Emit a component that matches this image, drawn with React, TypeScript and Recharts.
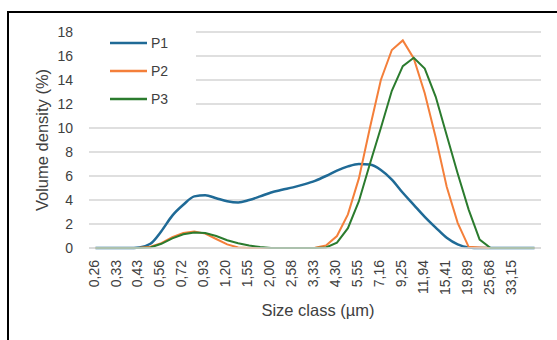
import { LineChart, Line, XAxis, YAxis, CartesianGrid, Legend } from 'recharts';

// size classes (µm), every point of the measurement grid
const SIZE_CLASSES = [
  '0,26', '0,30', '0,33', '0,38', '0,43', '0,49', '0,56', '0,63', '0,72', '0,82',
  '0,93', '1,06', '1,20', '1,37', '1,55', '1,76', '2,00', '2,27', '2,58', '2,93',
  '3,33', '3,78', '4,30', '4,88', '5,55', '6,30', '7,16', '8,14', '9,25', '10,51',
  '11,94', '13,56', '15,41', '17,51', '19,89', '22,60', '25,68', '29,17', '33,15', '37,66',
  '42,79',
];

// labels printed under the axis
const SHOWN_TICKS = [
  '0,26', '0,33', '0,43', '0,56', '0,72', '0,93', '1,20', '1,55', '2,00', '2,58',
  '3,33', '4,30', '5,55', '7,16', '9,25', '11,94', '15,41', '19,89', '25,68', '33,15',
];

const Y_TICKS = [0, 2, 4, 6, 8, 10, 12, 14, 16, 18];

const P1 = [
  0, 0, 0, 0, 0.05, 0.35, 1.4, 2.7, 3.6, 4.3,
  4.4, 4.15, 3.9, 3.8, 4.0, 4.3, 4.63, 4.85, 5.05, 5.3,
  5.6, 6.0, 6.45, 6.8, 7.0, 6.95, 6.5, 5.7, 4.6, 3.6,
  2.6, 1.7, 0.85, 0.3, 0.05, 0, 0, 0, 0, 0,
  0,
];

const P2 = [
  0, 0, 0, 0, 0.02, 0.1, 0.4, 0.9, 1.25, 1.38,
  1.2, 0.75, 0.3, 0.05, 0, 0, 0, 0, 0, 0,
  0.02, 0.2, 1.0, 2.8, 5.8, 10.0, 14.0, 16.5, 17.3, 15.8,
  12.9, 9.2, 5.1, 2.1, 0.1, 0.05, 0, 0, 0, 0,
  0,
];

const P3 = [
  0, 0, 0, 0, 0, 0.05, 0.35, 0.8, 1.15, 1.3,
  1.25, 1.0, 0.65, 0.4, 0.2, 0.08, 0, 0, 0, 0,
  0, 0.05, 0.45, 1.65, 3.9, 7.0, 10.0, 13.1, 15.15, 15.85,
  14.95, 12.6, 9.4, 6.2, 3.2, 0.7, 0, 0, 0, 0,
  0,
];

const SERIES = [
  { key: 'P1', color: '#1f6a96', width: 2.5, type: 'monotone' as const },
  { key: 'P2', color: '#f47f3a', width: 2, type: 'linear' as const },
  { key: 'P3', color: '#2b7b2e', width: 2, type: 'linear' as const },
];

const data = SIZE_CLASSES.map((size, i) => ({ size, P1: P1[i], P2: P2[i], P3: P3[i] }));

const TEXT = '#404040';

function SizeTick(props: any) {
  const { x, y, payload } = props;
  return (
    <text
      x={x}
      y={y}
      transform={`rotate(-90, ${x}, ${y})`}
      textAnchor="end"
      dy="0.22em"
      fontSize={14}
      fill={TEXT}
    >
      {payload.value}
    </text>
  );
}

function LegendBox() {
  return (
    <div style={{ position: 'relative', width: 107, height: 84, background: '#fff' }}>
      {SERIES.map((s, i) => (
        <div
          key={s.key}
          style={{
            position: 'absolute', left: 21, top: 8 + i * 28, height: 18,
            display: 'flex', alignItems: 'center',
          }}
        >
          <svg width={37} height={4} style={{ display: 'block' }}>
            <line x1={0} y1={2} x2={37} y2={2} stroke={s.color} strokeWidth={2.5} />
          </svg>
          <span style={{ marginLeft: 4, fontSize: 14, color: TEXT, lineHeight: '18px' }}>{s.key}</span>
        </div>
      ))}
    </div>
  );
}

export default function App() {
  return (
    <div style={{
      position: 'absolute', left: 0, top: 0, width: 557, height: 340,
      overflow: 'hidden', background: '#fff', fontFamily: '"Liberation Sans", Arial, sans-serif',
    }}>
      <div style={{
        position: 'absolute', left: 7, top: 11, width: 600, height: 400,
        borderLeft: '2px solid #000', borderTop: '2px solid #000',
      }} />
      <div style={{ position: 'absolute', left: 0, top: 0 }}>
        <LineChart width={557} height={340} data={data} margin={{ top: 32, right: 16, left: 0, bottom: 0 }}>
          <CartesianGrid stroke="#bfbfbf" vertical={false} />
          <XAxis
            dataKey="size"
            ticks={SHOWN_TICKS}
            interval={0}
            tick={<SizeTick />}
            tickLine={false}
            tickSize={0}
            tickMargin={12}
            axisLine={{ stroke: '#d9d9d9', strokeWidth: 1.5 }}
            height={92}
            padding={{ left: 6.5, right: 6.5 }}
            label={{ value: 'Size class (µm)', position: 'insideBottom', offset: 24, dx: 3, fill: TEXT, fontSize: 16.5 }}
          />
          <YAxis
            domain={[0, 18]}
            ticks={Y_TICKS}
            interval={0}
            width={89}
            tickLine={false}
            tickSize={0}
            tickMargin={16}
            axisLine={false}
            tick={{ fill: TEXT, fontSize: 14 }}
            label={{ value: 'Volume density (%)', angle: -90, position: 'center', dx: -2, fill: TEXT, fontSize: 16.5 }}
          />
          <Legend
            layout="horizontal"
            verticalAlign="middle"
            align="center"
            content={<LegendBox />}
            wrapperStyle={{ left: 89, top: 26, width: 107, height: 84 }}
          />
          {SERIES.map((s) => (
            <Line
              key={s.key}
              dataKey={s.key}
              name={s.key}
              type={s.type}
              stroke={s.color}
              strokeWidth={s.width}
              dot={false}
              isAnimationActive={false}
            />
          ))}
        </LineChart>
      </div>
    </div>
  );
}
